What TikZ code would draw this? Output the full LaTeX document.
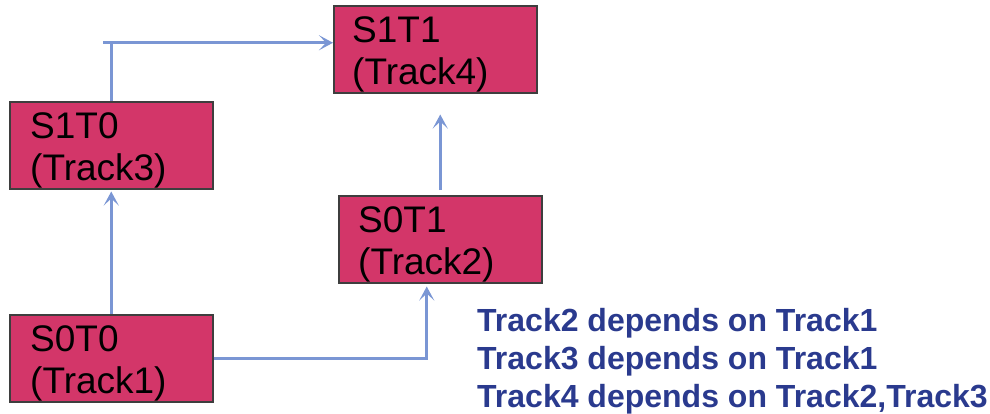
\documentclass[tikz,border=0pt]{standalone}
\usepackage{fontspec}
\setmainfont{Liberation Sans}
\usetikzlibrary{arrows.meta}
\definecolor{boxfill}{RGB}{211,54,105}
\definecolor{boxline}{RGB}{62,62,62}
\definecolor{arrowc}{RGB}{122,150,212}
\definecolor{notec}{RGB}{42,58,142}
\tikzset{
  trackbox/.style={draw=boxline, fill=boxfill, line width=1.5pt, minimum width=203pt, minimum height=87pt, inner sep=0pt, anchor=north west},
  boxtext/.style={anchor=base west, inner sep=0pt, font=\fontsize{37}{43}\selectfont},
  conn/.style={draw=arrowc, line width=3.3pt},
  arr/.style={conn, -{Stealth[length=14pt,width=15pt,inset=7pt]}},
  note/.style={anchor=base west, inner sep=0pt, text=notec, font=\fontsize{32}{38}\selectfont\bfseries}
}
\begin{document}
\begin{tikzpicture}[x=1pt,y=-1pt]
\useasboundingbox (0,0) rectangle (990,413);
% boxes
\node[trackbox] (S1T1) at (333,5) {};
\node[trackbox] (S1T0) at (9,101) {};
\node[trackbox] (S0T1) at (338,195) {};
\node[trackbox] (S0T0) at (9,314) {};
% box texts
\node[boxtext] (l11a) at (352,42) {S1T1};
\node[boxtext] (l11b) at (352,84) {(Track4)};
\node[boxtext] (l10a) at (30,138) {S1T0};
\node[boxtext] (l10b) at (30,180) {(Track3)};
\node[boxtext] (l01a) at (358,232) {S0T1};
\node[boxtext] (l01b) at (358,274) {(Track2)};
\node[boxtext] (l00a) at (30,351) {S0T0};
\node[boxtext] (l00b) at (30,393) {(Track1)};
% connectors
\draw[arr, shorten >=2pt] (S0T0.north) -- (S1T0.south);
\draw[arr, shorten >=3pt] (S0T0.east) -| ([xshift=-13.5pt]S0T1.south);
\draw[arr, shorten <=5pt, shorten >=21pt] (S0T1.north) -- (S0T1.north |- S1T1.south);
\coordinate (t11) at ([yshift=6.5pt]S1T1.west);
\draw[conn] (S1T0.north) -- (S1T0.north |- t11);
\draw[arr] ([xshift=-8pt]S1T0.north |- t11) -- (t11);
% notes
\node[note] (n1) at (477,331) {Track2 depends on Track1};
\node[note] (n2) at (477,369) {Track3 depends on Track1};
\node[note] (n3) at (477,407) {Track4 depends on Track2,Track3};
\end{tikzpicture}
\end{document}
